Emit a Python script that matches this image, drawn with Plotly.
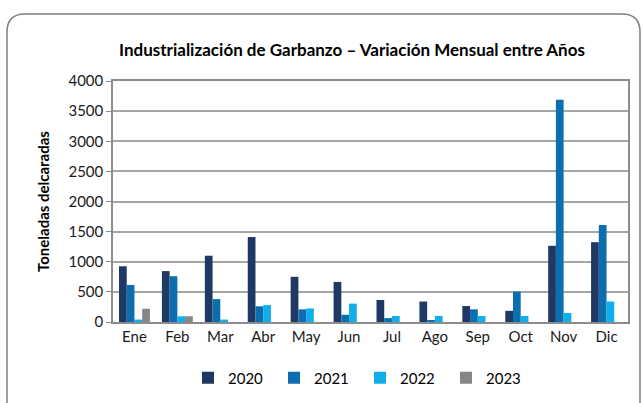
import plotly.graph_objects as go

months = ["Ene", "Feb", "Mar", "Abr", "May", "Jun", "Jul", "Ago", "Sep", "Oct", "Nov", "Dic"]
v2020 = [925, 845, 1100, 1410, 750, 665, 365, 340, 265, 185, 1265, 1325]
v2021 = [615, 760, 380, 260, 210, 120, 65, 28, 210, 505, 3690, 1610]
v2022 = [40, 95, 40, 280, 225, 305, 100, 100, 100, 100, 150, 340]
v2023 = [220, 95, None, None, None, None, None, None, None, None, None, None]

series = [("2020", v2020, "#1F3864"), ("2021", v2021, "#0C6DAF"),
          ("2022", v2022, "#10AEEB"), ("2023", v2023, "#868686")]

W, H = 643, 403
L, R, T, B = 113, 15, 81, 81
pw, ph = W - L - R, H - T - B

fig = go.Figure()
for name, vals, col in series:
    fig.add_trace(go.Bar(x=months, y=vals, name=name, marker_color=col, marker_line_width=0))

def P(x, y):
    a, b = (x - L) / pw, (H - B - y) / ph
    return f"{a:.5f},{b:.5f}"

# rounded outer border
x0, x1, y0, y1, r = 7, 640, 14, 420, 18
path = (f"M {P(x0, y1)} L {P(x0, y0 + r)} Q {P(x0, y0)} {P(x0 + r, y0)} "
        f"L {P(x1 - r, y0)} Q {P(x1, y0)} {P(x1, y0 + r)} L {P(x1, y1)}")
fig.add_shape(type="path", xref="paper", yref="paper", path=path,
              line=dict(color="#7F7F7F", width=1.5), layer="below")

fig.update_layout(
    width=W, height=H,
    margin=dict(l=L, r=R, t=T, b=B, autoexpand=False),
    paper_bgcolor="white", plot_bgcolor="white",
    barmode="group", bargap=0.28, bargroupgap=0,
    font=dict(family="Lato, Open Sans, sans-serif", color="#000000"),
    title=dict(text="<b>Industrialización de Garbanzo – Variación Mensual entre Años</b>",
               x=352 / W, xanchor="center", y=1 - 50 / H, yanchor="middle",
               font=dict(size=17, family="Lato", color="#000000")),
    showlegend=True,
    legend=dict(orientation="h", x=(188 - L) / pw, xanchor="left",
                y=-(378 - (H - B)) / ph, yanchor="middle",
                font=dict(size=15, family="Lato", color="#000000"),
                itemwidth=30, traceorder="normal", entrywidth=41),
)
fig.update_yaxes(range=[0, 4000], dtick=500, showgrid=True, gridcolor="#A6A6A6", gridwidth=1.5,
                 showline=True, linecolor="#8C8C8C", linewidth=1.5, mirror=True,
                 ticks="outside", ticklen=5, tickcolor="#8C8C8C",
                 tickfont=dict(size=15, family="Lato", color="#1A1A1A"),
                 title=dict(text="<b>Toneladas delcaradas</b>", font=dict(size=15, family="Lato"),
                            standoff=15),
                 zeroline=False)
fig.update_xaxes(showline=True, linecolor="#8C8C8C", linewidth=1.5, mirror=True,
                 tickfont=dict(size=15, family="Lato", color="#1A1A1A"), ticks="")

fig.write_html("out.html", config={"displayModeBar": False},
               post_script="document.body.style.margin='0';")
